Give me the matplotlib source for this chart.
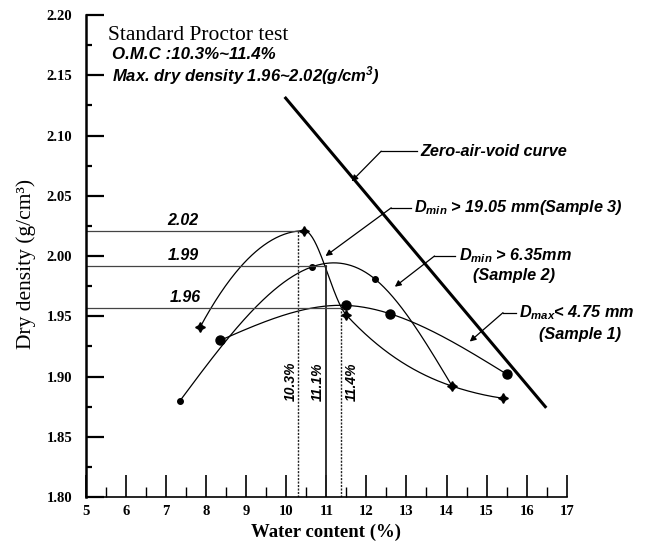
import numpy as np
import matplotlib
matplotlib.use("Agg")
import matplotlib.pyplot as plt
from matplotlib.ticker import MultipleLocator

plt.rcParams['mathtext.fontset'] = 'custom'
plt.rcParams['mathtext.it'] = 'Liberation Sans:italic:bold'
plt.rcParams['mathtext.rm'] = 'Liberation Sans:italic:bold'
plt.rcParams['mathtext.default'] = 'it'

# ---- data ----
s1_w = [8.35, 11.5, 12.6, 15.5]          # D_max < 4.75 mm (Sample 1)
s1_d = [1.930, 1.959, 1.952, 1.902]
s2_w = [7.35, 10.64, 12.21, 14.14]       # D_min > 6.35 mm (Sample 2)
s2_d = [1.880, 1.991, 1.981, 1.892]
s3_w = [7.85, 10.45, 11.5, 14.14, 15.4]  # D_min > 19.05 mm (Sample 3)
s3_d = [1.941, 2.021, 1.951, 1.892, 1.882]
zav_w = [9.96, 16.49]                    # zero-air-void line
zav_d = [2.132, 1.874]
max_dens = [2.021, 1.992, 1.957]
max_dens_lbl = ["2.02", "1.99", "1.96"]
omc = [10.3, 11.0, 11.37]
omc_lbl = ["10.3%", "11.1%", "11.4%"]
xticks = list(range(5, 18))
yticks = [1.80, 1.85, 1.90, 1.95, 2.00, 2.05, 2.10, 2.15, 2.20]


def natural_spline(xs, ys, n=300):
    x = np.asarray(xs, float)
    y = np.asarray(ys, float)
    N = len(x)
    h = np.diff(x)
    A = np.zeros((N, N))
    r = np.zeros(N)
    A[0, 0] = 1.0
    A[-1, -1] = 1.0
    for i in range(1, N - 1):
        A[i, i - 1] = h[i - 1]
        A[i, i] = 2 * (h[i - 1] + h[i])
        A[i, i + 1] = h[i]
        r[i] = 6 * ((y[i + 1] - y[i]) / h[i] - (y[i] - y[i - 1]) / h[i - 1])
    M = np.linalg.solve(A, r)
    xx = np.linspace(x[0], x[-1], n)
    k = np.clip(np.searchsorted(x, xx) - 1, 0, N - 2)
    a = x[k + 1] - xx
    b = xx - x[k]
    hk = h[k]
    yy = (M[k] * a ** 3 / (6 * hk) + M[k + 1] * b ** 3 / (6 * hk)
          + (y[k] / hk - M[k] * hk / 6) * a + (y[k + 1] / hk - M[k + 1] * hk / 6) * b)
    return xx, yy


def pchip(xs, ys, n=300):
    x = np.asarray(xs, float)
    y = np.asarray(ys, float)
    N = len(x)
    h = np.diff(x)
    dl = np.diff(y) / h
    d = np.zeros(N)
    for k in range(1, N - 1):
        if dl[k - 1] * dl[k] > 0:
            w1 = 2 * h[k] + h[k - 1]
            w2 = h[k] + 2 * h[k - 1]
            d[k] = (w1 + w2) / (w1 / dl[k - 1] + w2 / dl[k])
    # quadratic end segments
    d[0] = 2 * dl[0] - d[1]
    d[-1] = 2 * dl[-1] - d[-2]
    xx = np.linspace(x[0], x[-1], n)
    k = np.clip(np.searchsorted(x, xx) - 1, 0, N - 2)
    t = (xx - x[k]) / h[k]
    h00 = 2 * t ** 3 - 3 * t ** 2 + 1
    h10 = t ** 3 - 2 * t ** 2 + t
    h01 = -2 * t ** 3 + 3 * t ** 2
    h11 = t ** 3 - t ** 2
    yy = h00 * y[k] + h10 * h[k] * d[k] + h01 * y[k + 1] + h11 * h[k] * d[k + 1]
    return xx, yy


fig = plt.figure(figsize=(6.45, 5.42), dpi=100)
ax = fig.add_axes([0.1333, 0.0830, 0.8786 - 0.1333, 0.9723 - 0.0830])
ax.set_xlim(5, 17)
ax.set_ylim(1.80, 2.20)

for s in ['top', 'right']:
    ax.spines[s].set_visible(False)
ax.spines['left'].set_linewidth(1.8)
ax.spines['bottom'].set_linewidth(1.2)

ax.set_xticks(xticks)
ax.set_yticks(yticks)
ax.set_yticklabels([f"{v:.2f}" for v in yticks])
ax.xaxis.set_minor_locator(MultipleLocator(0.5))
ax.yaxis.set_minor_locator(MultipleLocator(0.025))
ax.tick_params(axis='y', which='major', direction='in', length=13, width=1.6, pad=10)
ax.tick_params(axis='y', which='minor', direction='in', length=4, width=1.6)
ax.tick_params(axis='x', which='major', direction='in', length=16, width=1.2, pad=6)
ax.tick_params(axis='x', which='minor', direction='in', length=7, width=1.0)
for lab in ax.get_xticklabels() + ax.get_yticklabels():
    lab.set_family('Liberation Serif')
    lab.set_fontweight('bold')
    lab.set_fontsize(10.5)

ax.set_xlabel("Water content (%)", family='Liberation Serif', fontweight='bold', fontsize=13.5)
ax.xaxis.set_label_coords(0.5, -0.055)
ax.set_ylabel("Dry density (g/cm³)", family='Liberation Serif', fontsize=15.5)
ax.yaxis.set_label_coords(-0.105, 0.483)

# curves
for (xs, ys), fn in [((s1_w, s1_d), natural_spline), ((s2_w, s2_d), natural_spline),
                     ((s3_w, s3_d), pchip)]:
    cx, cy = fn(xs, ys)
    ax.plot(cx, cy, color='black', lw=0.9)
ax.plot(s1_w, s1_d, 'o', color='black', ms=6.5, ls='none')
ax.plot(s2_w, s2_d, 'o', color='black', ms=4, ls='none')
ax.plot(s3_w, s3_d, marker=(4, 1, 0), color='black', ms=7, ls='none')

ax.plot(zav_w, zav_d, color='black', lw=2.2, solid_capstyle='butt')

# reference lines for maximum density / OMC
vstyles = [(0, (1.5, 1)), '-', (0, (1.5, 1))]
vwidths = [1.0, 1.3, 1.0]
for yv, xv, vs, vw in zip(max_dens, omc, vstyles, vwidths):
    ax.plot([5, xv], [yv, yv], color='#444444', lw=0.9)
    ax.plot([xv, xv], [1.80, yv], color='#222222', lw=vw, ls=vs)
for yv, lbl, xc in zip(max_dens, max_dens_lbl, [7.42, 7.42, 7.47]):
    ax.text(xc, yv + 0.002, lbl, ha='center', va='bottom', style='italic', fontweight='bold',
            family='Liberation Sans', fontsize=11.5)
for xc, lbl in zip([10.1, 10.78, 11.63], omc_lbl):
    ax.text(xc, 1.896, lbl, rotation=90, ha='center', va='center', style='italic',
            fontweight='bold', family='Liberation Sans', fontsize=10)

# header texts
ax.text(5.55, 2.183, "Standard Proctor test", family='Liberation Serif', fontsize=15.5,
        ha='left', va='center')
ax.text(5.65, 2.167, "O.M.C :10.3%~11.4%", family='Liberation Sans', style='italic',
        fontweight='bold', fontsize=12.2, ha='left', va='center')
ax.text(5.65, 2.150, "Max. dry density 1.96~2.02(g/cm$^{3}$)", family='Liberation Sans',
        style='italic', fontweight='bold', fontsize=12, ha='left', va='center')


def callout(tip, elbow, text_x, lines, dy=0.0175):
    ax.plot([elbow[0], text_x - 0.08], [elbow[1], elbow[1]], color='black', lw=0.9)
    ax.annotate("", xy=tip, xytext=elbow,
                arrowprops=dict(arrowstyle='-|>', color='black', lw=0.9,
                                mutation_scale=9, shrinkA=0, shrinkB=0))
    for k, (txt, dx) in enumerate(lines):
        ax.text(text_x + dx, elbow[1] - k * dy, txt, family='Liberation Sans',
                style='italic', fontweight='bold', fontsize=11.7, ha='left',
                va='center', clip_on=False)


callout((11.63, 2.062), (12.37, 2.087), 13.35, [("Zero-air-void curve", 0)])
callout((10.98, 2.000), (12.62, 2.040), 13.2, [(r"$D_{min}$ > 19.05 mm(Sample 3)", 0)])
callout((12.71, 1.9745), (13.70, 2.000), 14.3,
        [(r"$D_{min}$ > 6.35mm", 0), ("(Sample 2)", 0.35)], dy=0.0165)
callout((14.58, 1.929), (15.41, 1.953), 15.82,
        [(r"$D_{max}$< 4.75 mm", 0), ("(Sample 1)", 0.5)], dy=0.0185)

fig.savefig("out.png", dpi=100)
